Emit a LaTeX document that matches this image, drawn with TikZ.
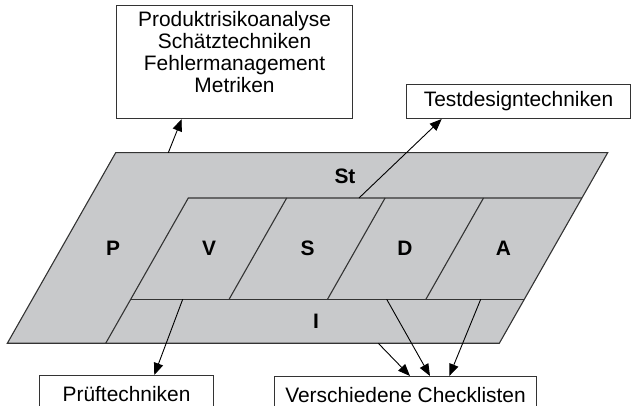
\documentclass[tikz,border=0pt]{standalone}
\usepackage{fontspec}
\setmainfont{Liberation Sans}
\usetikzlibrary{arrows.meta}
\definecolor{panelgray}{HTML}{C8C9CB}
\definecolor{linegray}{HTML}{333333}
\begin{document}
\begin{tikzpicture}[x=1pt,y=-1pt,
  edge/.style={draw=linegray,line width=1.1pt},
  box/.style={draw=linegray,line width=1.1pt,fill=white,align=center,inner sep=0pt,font=\fontsize{20.9}{22}\selectfont},
  lbl/.style={font=\fontsize{20.9}{22}\selectfont\bfseries},
  arr/.style={draw=black,line width=0.9pt,-{Triangle[length=12pt,width=9.5pt]}}]
\useasboundingbox (0,0) rectangle (638,406);
\clip (0,0) rectangle (638,406);
% outer parallelogram
\coordinate (OTL) at (115.7,152.7);
\coordinate (OTR) at (607.7,152.7);
\coordinate (OBR) at (499.3,343.3);
\coordinate (OBL) at (7.3,343.3);
\fill[panelgray] (OTL)--(OTR)--(OBR)--(OBL)--cycle;
% inner structure
\draw[edge] (581.9,198) -- (188.3,198) -- (105.7,343.3);
\draw[edge] (130.7,299.3) -- (524.3,299.3);
\draw[edge] (286.7,198) -- (229.1,299.3);
\draw[edge] (385.1,198) -- (327.5,299.3);
\draw[edge] (483.5,198) -- (425.9,299.3);
\draw[edge,line join=miter] (OTL)--(OTR)--(OBR)--(OBL)--cycle;
% labels
\node[lbl] (lSt) at (345,176) {St};
\node[lbl] (lP) at (113,248.5) {P};
\node[lbl] (lV) at (209,248.5) {V};
\node[lbl] (lS) at (307.5,248.5) {S};
\node[lbl] (lD) at (405,248.5) {D};
\node[lbl] (lA) at (503.5,248.5) {A};
\node[lbl] (lI) at (316,321.5) {I};
% boxes
\node[box,minimum width=236pt,minimum height=113pt,anchor=north west] (tools) at (116,5)
  {Produktrisikoanalyse\\Schätztechniken\\Fehlermanagement\\Metriken\\[-2pt]\mbox{}};
\node[box,minimum width=224pt,minimum height=34pt,anchor=south west] (tdt) at (406,119) {Testdesigntechniken};
\node[box,minimum width=173.4pt,minimum height=36pt,anchor=north west] (pt) at (39.3,375) {Prüftechniken};
\node[box,minimum width=262pt,minimum height=36pt,anchor=north west] (vc) at (274,376) {Verschiedene Checklisten};
% connectors
\coordinate (sSt) at (168.3,152.7);
\coordinate (sS) at (359,198);
\coordinate (sV) at (182.7,299.3);
\coordinate (sI) at (378.3,343.3);
\coordinate (sD) at (386.7,299.3);
\coordinate (sA) at (480.7,299.3);
\draw[arr] (sSt) -- ([xshift=65.7pt]tools.south west);
\draw[arr] (sS) -- ([xshift=35.7pt]tdt.south west);
\draw[arr] (sV) -- ([xshift=115pt]pt.north west);
\draw[arr] (sI) -- ([xshift=136pt]vc.north west);
\draw[arr] (sD) -- ([xshift=156pt]vc.north west);
\draw[arr] (sA) -- ([xshift=175.3pt]vc.north west);
\end{tikzpicture}
\end{document}
